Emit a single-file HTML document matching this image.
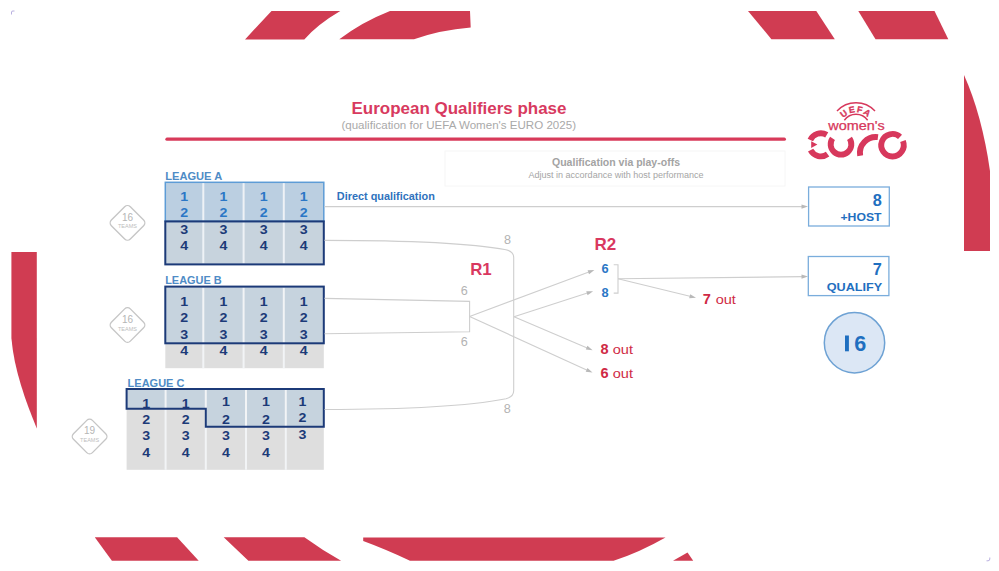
<!DOCTYPE html>
<html><head><meta charset="utf-8">
<style>
html,body{margin:0;padding:0;background:#fff;}
body{width:999px;height:571px;overflow:hidden;position:relative;font-family:"Liberation Sans",sans-serif;}
svg{position:absolute;left:0;top:0;}
text{font-family:"Liberation Sans",sans-serif;}
</style></head>
<body>
<svg width="999" height="571" viewBox="0 0 999 571">
<g fill="#d03c52">
  <path d="M271.5,11 L340.3,11 Q318,24 304.3,39.4 L245,39.4 Z"/>
  <path d="M390,11 L470,11 L470.7,27.5 Q440,30 414,39.3 L339.3,39.3 Q362,22 390,11 Z"/>
  <path d="M748,11 L816.3,11 L834.8,39.2 L771.4,39.2 Z"/>
  <path d="M858.3,11 L934.5,11 L948.3,39.2 L875.5,39.2 Z"/>
  <path d="M964,75 Q982,115 990,171 L990,251 L964,251 Z"/>
  <path d="M11.4,252 L36.8,252 L36.8,428.5 C26,402 14,370 11.4,338 Z"/>
  <path d="M94.8,537.2 L177.1,537.2 L198.7,560.7 L111.9,560.7 Z"/>
  <path d="M223.7,537.2 L304.4,537.2 Q322,550 341.1,560.7 L248.4,560.7 Z"/>
  <path d="M363.2,537.4 L665.5,537.4 Q640,552 613.6,560.7 L410,560.7 Q385,549 363.2,541 Z"/>
  <path d="M687.5,552.4 L693.2,560.7 L673,560.7 Z"/>
</g>
<path d="M11.5,14.5 L11.5,12 Q11.5,11 13,11 L14.5,11" fill="none" stroke="#b9b0e0" stroke-width="1"/>
<path d="M989.8,557.5 L989.8,559 Q989.8,560.8 988,560.8 L986.5,560.8" fill="none" stroke="#b9b0e0" stroke-width="1"/>
<text x="351.5" y="114.2" font-size="17" font-weight="bold" fill="#d83a60" textLength="215" lengthAdjust="spacingAndGlyphs">European Qualifiers phase</text>
<text x="341.4" y="128.6" font-size="10.5" fill="#a9a9a9" textLength="234.6" lengthAdjust="spacingAndGlyphs">(qualification for UEFA Women's EURO 2025)</text>
<line x1="167" y1="139.2" x2="784.3" y2="139.2" stroke="#d83a5a" stroke-width="3.3" stroke-linecap="round"/>
<rect x="445" y="151" width="340" height="35" fill="#fff" stroke="#f6f6f6" stroke-width="1"/>
<text x="552" y="166.4" font-size="10.5" font-weight="bold" fill="#a3a3a3" textLength="128" lengthAdjust="spacingAndGlyphs">Qualification via play-offs</text>
<text x="528.4" y="178" font-size="8.5" fill="#a5a5a5" textLength="175.2" lengthAdjust="spacingAndGlyphs">Adjust in accordance with host performance</text>
<text x="165.2" y="180" font-size="10" font-weight="bold" fill="#4f8cc6" textLength="57" lengthAdjust="spacingAndGlyphs">LEAGUE A</text>
<rect x="165.3" y="182.3" width="158.5" height="39.099999999999994" fill="#bbcfe1"/>
<rect x="165.3" y="221.4" width="158.5" height="42.99999999999997" fill="#c7d3dd"/>
<line x1="203.3" y1="183" x2="203.3" y2="263.5" stroke="#eef2f6" stroke-width="2"/>
<line x1="243.6" y1="183" x2="243.6" y2="263.5" stroke="#eef2f6" stroke-width="2"/>
<line x1="283.8" y1="183" x2="283.8" y2="263.5" stroke="#eef2f6" stroke-width="2"/>
<rect x="165.3" y="182.3" width="158.5" height="39.099999999999994" fill="none" stroke="#5d9cd6" stroke-width="1.5"/>
<rect x="165.3" y="221.4" width="158.5" height="42.99999999999997" fill="none" stroke="#1c3a78" stroke-width="2"/>
<text x="184.3" y="200.9" font-size="12.5" font-weight="bold" fill="#2b77c6" text-anchor="middle" textLength="7.9" lengthAdjust="spacingAndGlyphs">1</text>
<text x="184.3" y="217.3" font-size="12.5" font-weight="bold" fill="#2b77c6" text-anchor="middle" textLength="7.9" lengthAdjust="spacingAndGlyphs">2</text>
<text x="184.3" y="234.3" font-size="12.5" font-weight="bold" fill="#1c3a78" text-anchor="middle" textLength="7.9" lengthAdjust="spacingAndGlyphs">3</text>
<text x="184.3" y="250.3" font-size="12.5" font-weight="bold" fill="#1c3a78" text-anchor="middle" textLength="7.9" lengthAdjust="spacingAndGlyphs">4</text>
<text x="223.4" y="200.9" font-size="12.5" font-weight="bold" fill="#2b77c6" text-anchor="middle" textLength="7.9" lengthAdjust="spacingAndGlyphs">1</text>
<text x="223.4" y="217.3" font-size="12.5" font-weight="bold" fill="#2b77c6" text-anchor="middle" textLength="7.9" lengthAdjust="spacingAndGlyphs">2</text>
<text x="223.4" y="234.3" font-size="12.5" font-weight="bold" fill="#1c3a78" text-anchor="middle" textLength="7.9" lengthAdjust="spacingAndGlyphs">3</text>
<text x="223.4" y="250.3" font-size="12.5" font-weight="bold" fill="#1c3a78" text-anchor="middle" textLength="7.9" lengthAdjust="spacingAndGlyphs">4</text>
<text x="263.7" y="200.9" font-size="12.5" font-weight="bold" fill="#2b77c6" text-anchor="middle" textLength="7.9" lengthAdjust="spacingAndGlyphs">1</text>
<text x="263.7" y="217.3" font-size="12.5" font-weight="bold" fill="#2b77c6" text-anchor="middle" textLength="7.9" lengthAdjust="spacingAndGlyphs">2</text>
<text x="263.7" y="234.3" font-size="12.5" font-weight="bold" fill="#1c3a78" text-anchor="middle" textLength="7.9" lengthAdjust="spacingAndGlyphs">3</text>
<text x="263.7" y="250.3" font-size="12.5" font-weight="bold" fill="#1c3a78" text-anchor="middle" textLength="7.9" lengthAdjust="spacingAndGlyphs">4</text>
<text x="303.8" y="200.9" font-size="12.5" font-weight="bold" fill="#2b77c6" text-anchor="middle" textLength="7.9" lengthAdjust="spacingAndGlyphs">1</text>
<text x="303.8" y="217.3" font-size="12.5" font-weight="bold" fill="#2b77c6" text-anchor="middle" textLength="7.9" lengthAdjust="spacingAndGlyphs">2</text>
<text x="303.8" y="234.3" font-size="12.5" font-weight="bold" fill="#1c3a78" text-anchor="middle" textLength="7.9" lengthAdjust="spacingAndGlyphs">3</text>
<text x="303.8" y="250.3" font-size="12.5" font-weight="bold" fill="#1c3a78" text-anchor="middle" textLength="7.9" lengthAdjust="spacingAndGlyphs">4</text>
<text x="165.2" y="284.4" font-size="10" font-weight="bold" fill="#4f8cc6" textLength="56.5" lengthAdjust="spacingAndGlyphs">LEAGUE B</text>
<rect x="165.3" y="286.6" width="158.5" height="56.69999999999999" fill="#c6d3de"/>
<rect x="165.3" y="343.3" width="158.5" height="24.899999999999977" fill="#dedede"/>
<line x1="203.3" y1="287.5" x2="203.3" y2="368.2" stroke="#f2f4f6" stroke-width="2"/>
<line x1="243.6" y1="287.5" x2="243.6" y2="368.2" stroke="#f2f4f6" stroke-width="2"/>
<line x1="283.8" y1="287.5" x2="283.8" y2="368.2" stroke="#f2f4f6" stroke-width="2"/>
<rect x="165.3" y="286.6" width="158.5" height="56.69999999999999" fill="none" stroke="#1c3a78" stroke-width="2"/>
<text x="184.3" y="306.2" font-size="12.5" font-weight="bold" fill="#1c3a78" text-anchor="middle" textLength="7.9" lengthAdjust="spacingAndGlyphs">1</text>
<text x="184.3" y="322.4" font-size="12.5" font-weight="bold" fill="#1c3a78" text-anchor="middle" textLength="7.9" lengthAdjust="spacingAndGlyphs">2</text>
<text x="184.3" y="339.0" font-size="12.5" font-weight="bold" fill="#1c3a78" text-anchor="middle" textLength="7.9" lengthAdjust="spacingAndGlyphs">3</text>
<text x="184.3" y="355.0" font-size="12.5" font-weight="bold" fill="#1c3a78" text-anchor="middle" textLength="7.9" lengthAdjust="spacingAndGlyphs">4</text>
<text x="223.4" y="306.2" font-size="12.5" font-weight="bold" fill="#1c3a78" text-anchor="middle" textLength="7.9" lengthAdjust="spacingAndGlyphs">1</text>
<text x="223.4" y="322.4" font-size="12.5" font-weight="bold" fill="#1c3a78" text-anchor="middle" textLength="7.9" lengthAdjust="spacingAndGlyphs">2</text>
<text x="223.4" y="339.0" font-size="12.5" font-weight="bold" fill="#1c3a78" text-anchor="middle" textLength="7.9" lengthAdjust="spacingAndGlyphs">3</text>
<text x="223.4" y="355.0" font-size="12.5" font-weight="bold" fill="#1c3a78" text-anchor="middle" textLength="7.9" lengthAdjust="spacingAndGlyphs">4</text>
<text x="263.7" y="306.2" font-size="12.5" font-weight="bold" fill="#1c3a78" text-anchor="middle" textLength="7.9" lengthAdjust="spacingAndGlyphs">1</text>
<text x="263.7" y="322.4" font-size="12.5" font-weight="bold" fill="#1c3a78" text-anchor="middle" textLength="7.9" lengthAdjust="spacingAndGlyphs">2</text>
<text x="263.7" y="339.0" font-size="12.5" font-weight="bold" fill="#1c3a78" text-anchor="middle" textLength="7.9" lengthAdjust="spacingAndGlyphs">3</text>
<text x="263.7" y="355.0" font-size="12.5" font-weight="bold" fill="#1c3a78" text-anchor="middle" textLength="7.9" lengthAdjust="spacingAndGlyphs">4</text>
<text x="303.8" y="306.2" font-size="12.5" font-weight="bold" fill="#1c3a78" text-anchor="middle" textLength="7.9" lengthAdjust="spacingAndGlyphs">1</text>
<text x="303.8" y="322.4" font-size="12.5" font-weight="bold" fill="#1c3a78" text-anchor="middle" textLength="7.9" lengthAdjust="spacingAndGlyphs">2</text>
<text x="303.8" y="339.0" font-size="12.5" font-weight="bold" fill="#1c3a78" text-anchor="middle" textLength="7.9" lengthAdjust="spacingAndGlyphs">3</text>
<text x="303.8" y="355.0" font-size="12.5" font-weight="bold" fill="#1c3a78" text-anchor="middle" textLength="7.9" lengthAdjust="spacingAndGlyphs">4</text>
<text x="127.6" y="386.5" font-size="10" font-weight="bold" fill="#4f8cc6" textLength="56.8" lengthAdjust="spacingAndGlyphs">LEAGUE C</text>
<rect x="126.6" y="389" width="197.20000000000002" height="80.80000000000001" fill="#dedede"/>
<path d="M126.6,389 L323.8,389 L323.8,426.7 L205.8,426.7 L205.8,408.7 L126.6,408.7 Z" fill="#c6d3de"/>
<line x1="165.6" y1="390" x2="165.6" y2="469.8" stroke="#f2f4f6" stroke-width="2"/>
<line x1="205.8" y1="390" x2="205.8" y2="469.8" stroke="#f2f4f6" stroke-width="2"/>
<line x1="246" y1="390" x2="246" y2="469.8" stroke="#f2f4f6" stroke-width="2"/>
<line x1="285.8" y1="390" x2="285.8" y2="469.8" stroke="#f2f4f6" stroke-width="2"/>
<text x="146.1" y="407.6" font-size="12.5" font-weight="bold" fill="#1c3a78" text-anchor="middle" textLength="7.9" lengthAdjust="spacingAndGlyphs">1</text>
<text x="146.1" y="423.8" font-size="12.5" font-weight="bold" fill="#1c3a78" text-anchor="middle" textLength="7.9" lengthAdjust="spacingAndGlyphs">2</text>
<text x="146.1" y="440.2" font-size="12.5" font-weight="bold" fill="#1c3a78" text-anchor="middle" textLength="7.9" lengthAdjust="spacingAndGlyphs">3</text>
<text x="146.1" y="456.6" font-size="12.5" font-weight="bold" fill="#1c3a78" text-anchor="middle" textLength="7.9" lengthAdjust="spacingAndGlyphs">4</text>
<text x="185.7" y="407.6" font-size="12.5" font-weight="bold" fill="#1c3a78" text-anchor="middle" textLength="7.9" lengthAdjust="spacingAndGlyphs">1</text>
<text x="185.7" y="423.8" font-size="12.5" font-weight="bold" fill="#1c3a78" text-anchor="middle" textLength="7.9" lengthAdjust="spacingAndGlyphs">2</text>
<text x="185.7" y="440.2" font-size="12.5" font-weight="bold" fill="#1c3a78" text-anchor="middle" textLength="7.9" lengthAdjust="spacingAndGlyphs">3</text>
<text x="185.7" y="456.6" font-size="12.5" font-weight="bold" fill="#1c3a78" text-anchor="middle" textLength="7.9" lengthAdjust="spacingAndGlyphs">4</text>
<text x="225.9" y="406.3" font-size="12.5" font-weight="bold" fill="#1c3a78" text-anchor="middle" textLength="7.9" lengthAdjust="spacingAndGlyphs">1</text>
<text x="225.9" y="423.8" font-size="12.5" font-weight="bold" fill="#1c3a78" text-anchor="middle" textLength="7.9" lengthAdjust="spacingAndGlyphs">2</text>
<text x="225.9" y="440.2" font-size="12.5" font-weight="bold" fill="#1c3a78" text-anchor="middle" textLength="7.9" lengthAdjust="spacingAndGlyphs">3</text>
<text x="225.9" y="456.6" font-size="12.5" font-weight="bold" fill="#1c3a78" text-anchor="middle" textLength="7.9" lengthAdjust="spacingAndGlyphs">4</text>
<text x="265.9" y="406.3" font-size="12.5" font-weight="bold" fill="#1c3a78" text-anchor="middle" textLength="7.9" lengthAdjust="spacingAndGlyphs">1</text>
<text x="265.9" y="423.8" font-size="12.5" font-weight="bold" fill="#1c3a78" text-anchor="middle" textLength="7.9" lengthAdjust="spacingAndGlyphs">2</text>
<text x="265.9" y="440.2" font-size="12.5" font-weight="bold" fill="#1c3a78" text-anchor="middle" textLength="7.9" lengthAdjust="spacingAndGlyphs">3</text>
<text x="265.9" y="456.6" font-size="12.5" font-weight="bold" fill="#1c3a78" text-anchor="middle" textLength="7.9" lengthAdjust="spacingAndGlyphs">4</text>
<text x="302.5" y="406.3" font-size="12.5" font-weight="bold" fill="#1c3a78" text-anchor="middle" textLength="7.9" lengthAdjust="spacingAndGlyphs">1</text>
<text x="302.5" y="422.3" font-size="12.5" font-weight="bold" fill="#1c3a78" text-anchor="middle" textLength="7.9" lengthAdjust="spacingAndGlyphs">2</text>
<text x="302.5" y="438.6" font-size="12.5" font-weight="bold" fill="#1c3a78" text-anchor="middle" textLength="7.9" lengthAdjust="spacingAndGlyphs">3</text>
<path d="M126.6,389 L323.8,389 L323.8,426.7 L205.8,426.7 L205.8,408.7 L126.6,408.7 Z" fill="none" stroke="#1c3a78" stroke-width="2"/>
<g transform="translate(127.5,222.9)">
<rect x="-13.4" y="-13.4" width="26.8" height="26.8" rx="4" ry="4" transform="rotate(45)" fill="#fff" stroke="#c6c6c6" stroke-width="1.35"/>
<text x="0" y="-2.3" font-size="10" fill="#b5b5b5" text-anchor="middle">16</text>
<text x="0" y="5.6" font-size="5" fill="#bdbdbd" text-anchor="middle" textLength="19" lengthAdjust="spacingAndGlyphs">TEAMS</text>
</g>
<g transform="translate(127.5,325)">
<rect x="-13.4" y="-13.4" width="26.8" height="26.8" rx="4" ry="4" transform="rotate(45)" fill="#fff" stroke="#c6c6c6" stroke-width="1.35"/>
<text x="0" y="-2.3" font-size="10" fill="#b5b5b5" text-anchor="middle">16</text>
<text x="0" y="5.6" font-size="5" fill="#bdbdbd" text-anchor="middle" textLength="19" lengthAdjust="spacingAndGlyphs">TEAMS</text>
</g>
<g transform="translate(89.6,436.5)">
<rect x="-13.4" y="-13.4" width="26.8" height="26.8" rx="4" ry="4" transform="rotate(45)" fill="#fff" stroke="#c6c6c6" stroke-width="1.35"/>
<text x="0" y="-2.3" font-size="10" fill="#b5b5b5" text-anchor="middle">19</text>
<text x="0" y="5.6" font-size="5" fill="#bdbdbd" text-anchor="middle" textLength="19" lengthAdjust="spacingAndGlyphs">TEAMS</text>
</g>
<text x="336.8" y="200.2" font-size="10.5" font-weight="bold" fill="#2f72bd" textLength="98" lengthAdjust="spacingAndGlyphs">Direct qualification</text>
<line x1="324.5" y1="206.6" x2="802.80" y2="206.60" stroke="#cecece" stroke-width="1.1"/><path d="M808.00,206.60 L801.50,208.70 L801.50,204.50 Z" fill="#b9b9b9"/>
<path d="M324.5,240.4 C415,240.4 475,244 506,249.8 Q513.7,251.6 513.7,257.5 L513.7,390.5 Q513.7,396.8 506,398.8 C475,404.8 415,409.5 324.5,409.5" fill="none" stroke="#cecece" stroke-width="1.1"/>
<path d="M324.5,298.4 L469.6,301.4 L469.6,331.8 L324.5,333.8" fill="none" stroke="#cecece" stroke-width="1.1"/>
<line x1="469.6" y1="316.5" x2="589.53" y2="271.72" stroke="#cecece" stroke-width="1.1"/><path d="M594.40,269.90 L589.05,274.14 L587.58,270.21 Z" fill="#b9b9b9"/>
<line x1="469.6" y1="316.5" x2="587.77" y2="370.44" stroke="#cecece" stroke-width="1.1"/><path d="M592.50,372.60 L585.71,371.81 L587.46,367.99 Z" fill="#b9b9b9"/>
<line x1="514" y1="316.8" x2="588.15" y2="292.80" stroke="#cecece" stroke-width="1.1"/><path d="M593.10,291.20 L587.56,295.20 L586.27,291.20 Z" fill="#b9b9b9"/>
<line x1="514" y1="316.8" x2="587.81" y2="348.17" stroke="#cecece" stroke-width="1.1"/><path d="M592.60,350.20 L585.80,349.59 L587.44,345.73 Z" fill="#b9b9b9"/>
<path d="M613.7,264.8 L618,264.8 L618,293.1 L613.7,293.1" fill="none" stroke="#cecece" stroke-width="1.1"/>
<line x1="618" y1="278.8" x2="802.80" y2="276.66" stroke="#cecece" stroke-width="1.1"/><path d="M808.00,276.60 L801.52,278.78 L801.48,274.58 Z" fill="#b9b9b9"/>
<line x1="618" y1="278.8" x2="690.95" y2="296.48" stroke="#cecece" stroke-width="1.1"/><path d="M696.00,297.70 L689.19,298.21 L690.18,294.13 Z" fill="#b9b9b9"/>
<text x="507.4" y="244.4" font-size="12.6" fill="#b3b3b3" text-anchor="middle">8</text>
<text x="507.2" y="413" font-size="12.6" fill="#b3b3b3" text-anchor="middle">8</text>
<text x="464.3" y="294.7" font-size="12.6" fill="#b3b3b3" text-anchor="middle">6</text>
<text x="464.3" y="345.5" font-size="12.6" fill="#b3b3b3" text-anchor="middle">6</text>
<text x="470.2" y="275" font-size="17" font-weight="bold" fill="#d9385f" textLength="21.5" lengthAdjust="spacingAndGlyphs">R1</text>
<text x="594.6" y="250.4" font-size="17" font-weight="bold" fill="#d9385f" textLength="21.7" lengthAdjust="spacingAndGlyphs">R2</text>
<text x="605" y="272.9" font-size="12.8" font-weight="bold" fill="#2b77c6" text-anchor="middle">6</text>
<text x="605" y="296.6" font-size="12.8" font-weight="bold" fill="#2b77c6" text-anchor="middle">8</text>
<text x="600.4" y="353.5" font-size="14" fill="#cf2a45"><tspan font-weight="bold" textLength="8.1" lengthAdjust="spacingAndGlyphs">8</tspan><tspan dx="4.3" font-size="12.8" textLength="20.2" lengthAdjust="spacingAndGlyphs">out</tspan></text>
<text x="600.4" y="377.6" font-size="14" fill="#cf2a45"><tspan font-weight="bold" textLength="8.1" lengthAdjust="spacingAndGlyphs">6</tspan><tspan dx="4.3" font-size="12.8" textLength="20.2" lengthAdjust="spacingAndGlyphs">out</tspan></text>
<text x="702.8" y="304.3" font-size="14" fill="#cf2a45"><tspan font-weight="bold" textLength="8.1" lengthAdjust="spacingAndGlyphs">7</tspan><tspan dx="4.8" font-size="12.8" textLength="20.2" lengthAdjust="spacingAndGlyphs">out</tspan></text>
<rect x="808.6" y="187" width="80.7" height="39" fill="#fff" stroke="#7aaddc" stroke-width="1.3"/>
<text x="881.8" y="205.6" font-size="16.3" font-weight="bold" fill="#1f6fc0" text-anchor="end">8</text>
<text x="881.5" y="221.2" font-size="11" font-weight="bold" fill="#1f6fc0" text-anchor="end" textLength="41" lengthAdjust="spacingAndGlyphs">+HOST</text>
<rect x="808.3" y="256.5" width="80.6" height="39.1" fill="#fff" stroke="#7aaddc" stroke-width="1.3"/>
<text x="881.8" y="275.4" font-size="16.3" font-weight="bold" fill="#1f6fc0" text-anchor="end">7</text>
<text x="882.3" y="291" font-size="11" font-weight="bold" fill="#1f6fc0" text-anchor="end" textLength="55.6" lengthAdjust="spacingAndGlyphs">QUALIFY</text>
<circle cx="854.5" cy="342.7" r="30.2" fill="#dce7f5" stroke="#6ea2d4" stroke-width="1.5"/>
<rect x="845" y="335.5" width="3.9" height="15.8" fill="#1f6fc0"/>
<text x="860.2" y="351.3" font-size="21.5" font-weight="bold" fill="#1f6fc0" text-anchor="middle" textLength="12" lengthAdjust="spacingAndGlyphs">6</text>
<path d="M810.33,139.92 A11.55,11.55 0 0 1 826.75,134.90 M827.59,154.14 A11.55,11.55 0 0 1 810.60,150.22 M849.48,138.36 A10.350000000000001,10.350000000000001 0 1 1 832.52,138.36 M860.19,155.79 A16.05,16.05 0 0 1 877.96,137.07 M902.93,140.99 A11.25,11.25 0 1 1 900.03,136.84" fill="none" stroke="#d7385c" stroke-width="5.9"/>
<path d="M811.2,141.3 L817.4,144.6 L811.2,147.9 Z" fill="#d7385c"/>
<path d="M836.98,110.97 A26,26 0 0 1 875.02,110.97" fill="none" stroke="#d7385c" stroke-width="1.4"/>
<path d="M844.35,120.24 A14.4,14.4 0 0 1 867.65,120.24" fill="none" stroke="#d7385c" stroke-width="1.4"/>
<defs><path id="uefaarc" d="M839.60,128.70 A16.4,16.4 0 0 1 872.40,128.70"/></defs>
<text font-size="8.8" font-weight="bold" fill="#d7385c" stroke="#d7385c" stroke-width="0.35"><textPath href="#uefaarc" startOffset="50%" text-anchor="middle" letter-spacing="1.3">UEFA</textPath></text>
<text x="828.3" y="130.3" font-size="12.3" fill="#d7385c" stroke="#d7385c" stroke-width="0.25" textLength="56.3" lengthAdjust="spacingAndGlyphs">women's</text>
</svg>
</body></html>
